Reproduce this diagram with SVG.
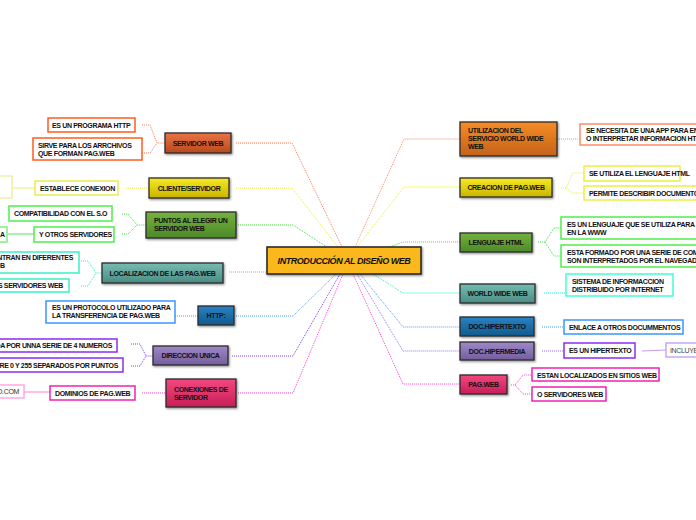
<svg xmlns="http://www.w3.org/2000/svg" width="696" height="520" viewBox="0 0 696 520">
<style>
.t{font-family:"Liberation Sans",Arial,sans-serif;font-weight:bold;font-size:7px;letter-spacing:-0.35px;fill:#111}
.m{stroke:#2b2b2b;stroke-width:1.3;filter:url(#sh)}
.l{fill:#fff;stroke-width:1.5}
.c{fill:none;stroke-width:1;stroke-dasharray:1 1}
.s{fill:none;stroke-width:1}
.mid{text-anchor:middle}
.end{text-anchor:end}
</style>
<defs>
<filter id="sh" x="-10%" y="-20%" width="130%" height="160%"><feDropShadow dx="1" dy="1.2" stdDeviation="0.8" flood-opacity="0.45"/></filter>
<linearGradient id="gOr" x1="0" y1="0" x2="0" y2="1"><stop offset="0" stop-color="#ea7446"/><stop offset="1" stop-color="#b9481f"/></linearGradient>
<linearGradient id="gOa" x1="0" y1="0" x2="0" y2="1"><stop offset="0" stop-color="#f68c24"/><stop offset="1" stop-color="#c3621a"/></linearGradient>
<linearGradient id="gY" x1="0" y1="0" x2="0" y2="1"><stop offset="0" stop-color="#f7ea22"/><stop offset="1" stop-color="#c8b400"/></linearGradient>
<linearGradient id="gG" x1="0" y1="0" x2="0" y2="1"><stop offset="0" stop-color="#76b23e"/><stop offset="1" stop-color="#4c8928"/></linearGradient>
<linearGradient id="gT" x1="0" y1="0" x2="0" y2="1"><stop offset="0" stop-color="#76bcb2"/><stop offset="1" stop-color="#4a8c84"/></linearGradient>
<linearGradient id="gB" x1="0" y1="0" x2="0" y2="1"><stop offset="0" stop-color="#2a82c4"/><stop offset="1" stop-color="#0f5a8c"/></linearGradient>
<linearGradient id="gP" x1="0" y1="0" x2="0" y2="1"><stop offset="0" stop-color="#a088c8"/><stop offset="1" stop-color="#735e9c"/></linearGradient>
<linearGradient id="gK" x1="0" y1="0" x2="0" y2="1"><stop offset="0" stop-color="#f2487f"/><stop offset="1" stop-color="#c81e5a"/></linearGradient>
</defs>

<g id="connectors">
<path class="c" stroke="#ff7a50" d="M236,143 H292 L342,247"/>
<path class="c" stroke="#f0f020" d="M236,188 H292 L338,247"/>
<path class="c" stroke="#40e040" d="M238,225 H293 L327,247"/>
<path class="c" stroke="#20f0c8" d="M229,272 H267"/>
<path class="c" stroke="#4aa0ff" d="M236,316 H293 L336,274"/>
<path class="c" stroke="#7a3cff" d="M232,356 H293 L340,274"/>
<path class="c" stroke="#ff40d0" d="M238,393 H293 L343,274"/>
<path class="c" stroke="#ff8a6a" d="M355,247 L404,139 H460"/>
<path class="c" stroke="#e8f030" d="M357,247 L404,187 H460"/>
<path class="c" stroke="#40e040" d="M390,247 L403,242 H460"/>
<path class="c" stroke="#20f0c8" d="M373,274 L403,293 H460"/>
<path class="c" stroke="#4aa0ff" d="M360,274 L403,327 H460"/>
<path class="c" stroke="#9870ff" d="M357,274 L403,351 H460"/>
<path class="c" stroke="#ff40d0" d="M353,274 L403,384 H460"/>

<path class="c" stroke="#ff7a50" d="M142,125 H150 L157,143 H165 M142,153 H150 L157,143"/>
<path class="c" stroke="#f0f020" d="M126,188 H149"/>
<path class="s" stroke="#e6f080" d="M12,188 H35"/>
<path class="c" stroke="#40e040" d="M122,214 H128 L137,225 H146 M122,234 H128 L137,225"/>
<path class="s" stroke="#60e060" d="M7,234 H34"/>
<path class="c" stroke="#20f0c8" d="M81,261 H88 L96,273 H102 M81,286 H88 L96,273"/>
<path class="c" stroke="#4aa0ff" d="M175,316 H198"/>
<path class="c" stroke="#7a3cff" d="M131,344 H140 L146,356 H153 M131,366 H140 L146,356"/>
<path class="c" stroke="#ff40d0" d="M142,393 H166"/>
<path class="s" stroke="#ff80d8" d="M24,392 H50"/>
<path class="c" stroke="#ff8a6a" d="M557,139 H580"/>
<path class="c" stroke="#e8f030" d="M561,188 H566 L573,173 H584 M566,188 L573,193 H584"/>
<path class="c" stroke="#40e040" d="M538,242 H545 L554,228 H561 M545,242 L554,256 H561"/>
<path class="c" stroke="#20f0c8" d="M544,293 H566"/>
<path class="c" stroke="#4aa0ff" d="M542,327 H564"/>
<path class="c" stroke="#9870ff" d="M542,351 H564"/>
<path class="s" stroke="#c49cf0" d="M642,351 L666,350"/>
<path class="c" stroke="#ff40d0" d="M511,385 H515 L523,375 H532 M515,385 L523,394 H532"/>
</g>

<g id="central">
<rect x="267" y="247" width="154" height="27" fill="#fbb81a" stroke="#222" stroke-width="1.5" filter="url(#sh)"/>
<text class="t mid" x="344" y="263.5" style="font-size:9px;font-style:italic;letter-spacing:-0.45px">INTRODUCCIÓN AL DISEÑO WEB</text>
</g>

<g id="servidor-web"><rect class="m" x="165" y="133" width="66" height="20" fill="url(#gOr)"/><text class="t mid" x="198" y="145.5">SERVIDOR WEB</text></g>
<g id="cliente-servidor"><rect class="m" x="149" y="178" width="80" height="20" fill="url(#gY)"/><text class="t mid" x="189" y="190.5">CLIENTE/SERVIDOR</text></g>
<g id="puntos"><rect class="m" x="146" y="212" width="90" height="26" fill="url(#gG)"/><text class="t" x="154" y="222.5">PUNTOS AL ELEGIR UN</text><text class="t" x="154" y="230.5">SERVIDOR WEB</text></g>
<g id="localizacion"><rect class="m" x="102" y="263" width="121" height="20" fill="url(#gT)"/><text class="t mid" x="162.5" y="275.5">LOCALIZACION DE LAS PAG.WEB</text></g>
<g id="http"><rect class="m" x="198" y="306" width="36" height="19" fill="url(#gB)"/><text class="t mid" x="216" y="318">HTTP:</text></g>
<g id="direccion"><rect class="m" x="153" y="346" width="75" height="19" fill="url(#gP)"/><text class="t mid" x="190.5" y="358">DIRECCION UNICA</text></g>
<g id="conexiones"><rect class="m" x="166" y="379" width="70" height="28" fill="url(#gK)"/><text class="t" x="174" y="391.5">CONEXIONES DE</text><text class="t" x="174" y="399.5">SERVIDOR</text></g>

<g id="utilizacion"><rect class="m" x="460" y="122" width="97" height="34" fill="url(#gOa)"/><text class="t" x="468" y="132.5">UTILIZACION DEL</text><text class="t" x="468" y="140.5">SERVICIO WORLD WIDE</text><text class="t" x="468" y="148.5">WEB</text></g>
<g id="creacion"><rect class="m" x="460" y="178" width="92" height="19" fill="url(#gY)"/><text class="t mid" x="506" y="190">CREACION DE PAG.WEB</text></g>
<g id="lenguaje"><rect class="m" x="460" y="233" width="72" height="19" fill="url(#gG)"/><text class="t mid" x="496" y="245">LENGUAJE HTML</text></g>
<g id="www"><rect class="m" x="460" y="284" width="75" height="19" fill="url(#gT)"/><text class="t mid" x="497.5" y="296">WORLD WIDE WEB</text></g>
<g id="hipertexto"><rect class="m" x="460" y="317" width="74" height="19" fill="url(#gB)"/><text class="t mid" x="497" y="329">DOC.HIPERTEXTO</text></g>
<g id="hipermedia"><rect class="m" x="460" y="342" width="74" height="18" fill="url(#gP)"/><text class="t mid" x="497" y="353.5">DOC.HIPERMEDIA</text></g>
<g id="pagweb"><rect class="m" x="460" y="375" width="47" height="19" fill="url(#gK)"/><text class="t mid" x="483.5" y="387">PAG.WEB</text></g>

<g id="l-programa"><rect class="l" x="48" y="118" width="87" height="14" stroke="#ff5b1e"/><text class="t" x="52" y="127.5">ES UN PROGRAMA HTTP</text></g>
<g id="l-sirve"><rect class="l" x="33" y="138" width="109" height="22" stroke="#ff5b1e"/><text class="t" x="38" y="147.5">SIRVE PARA LOS ARRCHIVOS</text><text class="t" x="38" y="155.5">QUE FORMAN PAG.WEB</text></g>
<g id="l-establece"><rect class="l" x="35" y="181" width="83" height="14" stroke="#e8ec4a"/><text class="t" x="40" y="190.5">ESTABLECE CONEXION</text></g>
<g id="l-pale"><rect class="l" x="-10" y="176" width="22" height="22" stroke="#eef0a0"/></g>
<g id="l-compat"><rect class="l" x="9" y="206" width="103" height="15" stroke="#4cf04c"/><text class="t" x="14" y="216">COMPATIBILIDAD CON EL S.O</text></g>
<g id="l-otros"><rect class="l" x="34" y="227" width="80" height="15" stroke="#4cf04c"/><text class="t" x="39" y="237">Y OTROS SERVIDORES</text></g>
<g id="l-a"><rect class="l" x="-10" y="227" width="17" height="15" stroke="#80f080"/><text class="t" x="0" y="237">A</text></g>
<g id="l-ntran"><rect class="l" x="-10" y="252" width="89" height="21" stroke="#3cf0c8"/><text class="t end" x="73" y="259.5">NTRAN EN DIFERENTES</text><text class="t" x="0" y="268">B</text></g>
<g id="l-servweb"><rect class="l" x="-10" y="279" width="79" height="13" stroke="#3cf0c8"/><text class="t end" x="63" y="288">OS SERVIDORES WEB</text></g>
<g id="l-protocolo"><rect class="l" x="46" y="301" width="129" height="22" stroke="#3a96ff"/><text class="t" x="52" y="309.5">ES UN PROTOCOLO UTILIZADO PARA</text><text class="t" x="52" y="317.5">LA TRANSFERENCIA DE PAG.WEB</text></g>
<g id="l-serie"><rect class="l" x="-10" y="339" width="127" height="13" stroke="#8a2cf0"/><text class="t end" x="112" y="348">DA POR UNNA SERIE DE 4 NUMEROS</text></g>
<g id="l-entre"><rect class="l" x="-10" y="358" width="133" height="14" stroke="#8a2cf0"/><text class="t end" x="118" y="367.5">TRE 0 Y 255 SEPARADOS POR PUNTOS</text></g>
<g id="l-com"><rect class="l" x="-10" y="385" width="34" height="13" stroke="#ffa8e4"/><text class="t end" x="19" y="394" style="font-weight:normal;fill:#333">O.COM</text></g>
<g id="l-dominios"><rect class="l" x="50" y="386" width="85" height="14" stroke="#ee22b4"/><text class="t" x="55" y="395.5">DOMINIOS DE PAG.WEB</text></g>

<g id="r-necesita"><rect class="l" x="580" y="124" width="130" height="21" stroke="#ff8a6a"/><text class="t" x="586" y="132.5">SE NECESITA DE UNA APP PARA EN</text><text class="t" x="586" y="141">O INTERPRETAR INFORMACION HT</text></g>
<g id="r-utiliza"><rect class="l" x="584" y="166" width="96" height="15" stroke="#eaf040"/><text class="t" x="589" y="176">SE UTILIZA EL LENGUAJE HTML</text></g>
<g id="r-permite"><rect class="l" x="584" y="186" width="130" height="14" stroke="#eaf040"/><text class="t" x="589" y="195.5">PERMITE DESCRIBIR DOCUMENTO</text></g>
<g id="r-lenguaje"><rect class="l" x="561" y="217" width="150" height="22" stroke="#4cf04c"/><text class="t" x="567" y="227">ES UN LENGUAJE QUE SE UTILIZA PARA C</text><text class="t" x="567" y="235">EN LA WWW</text></g>
<g id="r-formado"><rect class="l" x="561" y="245" width="150" height="22" stroke="#4cf04c"/><text class="t" x="567" y="254.5">ESTA FORMADO POR UNA SERIE DE COM</text><text class="t" x="567" y="263">SON INTERPRETADOS POR EL NAVEGADO</text></g>
<g id="r-sistema"><rect class="l" x="566" y="274" width="107" height="22" stroke="#40ffd0"/><text class="t" x="572" y="283.5">SISTEMA DE INFORMACCION</text><text class="t" x="572" y="292">DISTRIBUIDO POR INTERNET</text></g>
<g id="r-enlace"><rect class="l" x="564" y="320" width="119" height="14" stroke="#3a96ff"/><text class="t" x="569" y="329.5">ENLACE A OTROS DOCUMMENTOS</text></g>
<g id="r-eshiper"><rect class="l" x="564" y="343" width="71" height="15" stroke="#8a2cf0"/><text class="t" x="569" y="353">ES UN HIPERTEXTO</text></g>
<g id="r-incluye"><rect class="l" x="666" y="343" width="50" height="14" stroke="#c8a8f0"/><text class="t" x="670" y="352.5" style="font-weight:normal;fill:#444">INCLUYE</text></g>
<g id="r-estan"><rect class="l" x="532" y="368" width="127" height="13" stroke="#ee22b4"/><text class="t" x="537" y="377.5">ESTAN LOCALIZADOS EN SITIOS WEB</text></g>
<g id="r-oserv"><rect class="l" x="532" y="387" width="74" height="14" stroke="#ee22b4"/><text class="t" x="537" y="396.5">O SERVIDORES WEB</text></g>
</svg>
